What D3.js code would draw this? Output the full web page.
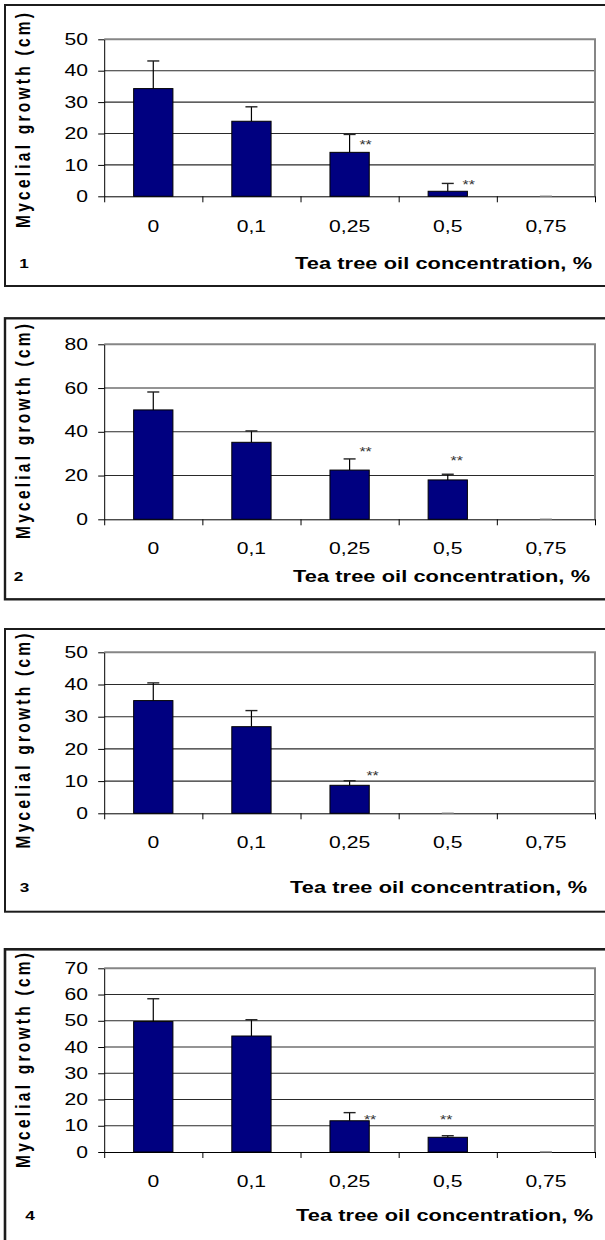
<!DOCTYPE html>
<html>
<head>
<meta charset="utf-8">
<script src="https://cdn.jsdelivr.net/npm/d3@7"></script>
<style>
  body { margin: 0; background: #fff; }
  svg { display: block; }
  text { font-family: "Liberation Sans", Arial, sans-serif; fill: #000; }
</style>
</head>
<body>
<svg id="fig" width="605" height="1240"></svg>
<script>
// Tea tree oil concentration (%) on the x axis
const categories = ["0", "0,1", "0,25", "0,5", "0,75"];

// Mean mycelial growth (cm) and standard deviation, one pair per fungus
const growth1 = [34.3, 23.9, 14.0, 1.6, 0];
const sd1     = [8.8, 4.6, 5.7, 2.5, 0];
const growth2 = [50.0, 35.2, 22.5, 18.0, 0];
const sd2     = [8.2, 5.2, 5.1, 2.6, 0];
const growth3 = [35.0, 26.9, 8.7, 0, 0];
const sd3     = [5.5, 5.0, 1.4, 0, null];
const growth4 = [49.7, 44.2, 11.9, 5.6, 0];
const sd4     = [8.7, 6.2, 3.1, 0.6, 0];

// Significance marks
const sig1 = ["", "", "**", "**", ""];
const sig2 = ["", "", "**", "**", ""];
const sig3 = ["", "", "**", "", ""];
const sig4 = ["", "", "**", "**", ""];

// y-axis extents and tick steps
const yMax  = [50, 80, 50, 70];
const yStep = [10, 20, 10, 10];

const panelIds = ["1", "2", "3", "4"];
const xTitle = "Tea tree oil concentration, %";
const yTitle = "Mycelial growth (cm)";

const panels = [
  { id: panelIds[0], values: growth1, sd: sd1, sig: sig1, max: yMax[0], step: yStep[0] },
  { id: panelIds[1], values: growth2, sd: sd2, sig: sig2, max: yMax[1], step: yStep[1] },
  { id: panelIds[2], values: growth3, sd: sd3, sig: sig3, max: yMax[2], step: yStep[2] },
  { id: panelIds[3], values: growth4, sd: sd4, sig: sig4, max: yMax[3], step: yStep[3] }
];

// Page geometry of each framed panel
const layout = [
  { boxTop: 5,     boxBottom: 286,   frameW: 2,   plotTop: 39.3,  zero: 196.3, tickY: 226,    titleY: 263,   numX: 24,   titleRight: 592, yTitleY: 120.5 },
  { boxTop: 318.3, boxBottom: 599.3, frameW: 2.4, plotTop: 344.3, zero: 519.3, tickY: 548.3,  titleY: 576,   numX: 18.5, titleRight: 590, yTitleY: 431.5 },
  { boxTop: 629,   boxBottom: 911.7, frameW: 2,   plotTop: 652.3, zero: 813.3, tickY: 842.7,  titleY: 887.7, numX: 24.5, titleRight: 587, yTitleY: 741 },
  { boxTop: 949.3, boxBottom: 1260,  frameW: 2.6, plotTop: 968.3, zero: 1152,  tickY: 1181.7, titleY: 1215,  numX: 30,   titleRight: 593, yTitleY: 1060.5 }
];

// Placement of the "**" marks: horizontal shift from bar centre (px), height in data units
const sigPlace = [
  [null, null, { dx: 16, at: 17.1 }, { dx: 21, at: 4.65 }, null],
  [null, null, { dx: 16, at: 32.0 }, { dx: 9,  at: 27.9 }, null],
  [null, null, { dx: 23, at: 12.6 }, null, null],
  [null, null, { dx: 20.5, at: 13.45 }, { dx: -1.6, at: 13.45 }, null]
];

const plotLeft = 104.2, plotRight = 595;
const SX = 1.32;   // horizontal stretch of the lettering
const navy = "#000080";

const svg = d3.select("#fig");

function label(g, x, y, str, anchor, size, weight) {
  return g.append("text")
    .attr("transform", `translate(${x},${y}) scale(${SX},1)`)
    .attr("text-anchor", anchor)
    .style("font-size", size + "px")
    .style("font-weight", weight || "normal")
    .text(str);
}

panels.forEach((P, i) => {
  const L = layout[i];
  const g = svg.append("g");

  // panel frame
  g.append("rect")
    .attr("x", 5).attr("y", L.boxTop)
    .attr("width", 640).attr("height", L.boxBottom - L.boxTop)
    .attr("fill", "none").attr("stroke", "#1c1c1c").attr("stroke-width", L.frameW);

  const x = d3.scaleBand().domain(categories)
    .range([plotLeft, plotRight]).paddingInner(0.6).paddingOuter(0.3);
  const xb = d3.scaleLinear().domain([0, categories.length]).range([plotLeft, plotRight]);
  const y = d3.scaleLinear().domain([0, P.max]).range([L.zero, L.plotTop]);
  const ticks = d3.range(0, P.max + P.step / 2, P.step);

  // horizontal gridlines
  g.append("g").selectAll("line")
    .data(ticks.filter(t => t > 0 && t < P.max))
    .join("line")
    .attr("x1", plotLeft).attr("x2", plotRight)
    .attr("y1", d => y(d)).attr("y2", d => y(d))
    .attr("stroke", "#2a2a2a").attr("stroke-width", 1.1);

  // plot area border (top and right)
  g.append("path")
    .attr("d", `M${plotLeft},${y(P.max)}H${plotRight}V${y(0)}`)
    .attr("fill", "none").attr("stroke", "#868686").attr("stroke-width", 2);

  // y axis with outward ticks
  const yAxis = g.append("g")
    .attr("transform", `translate(${plotLeft},0)`)
    .call(d3.axisLeft(y).tickValues(ticks).tickSize(6).tickSizeOuter(0).tickFormat(""));
  yAxis.select(".domain").attr("stroke", "#000");
  yAxis.selectAll(".tick line").attr("stroke", "#000");

  // x axis with category separators
  const xAxis = g.append("g")
    .attr("transform", `translate(0,${y(0)})`)
    .call(d3.axisBottom(xb).ticks(categories.length).tickSize(6).tickSizeOuter(0).tickFormat(""));
  xAxis.select(".domain").attr("stroke", "#000");
  xAxis.selectAll(".tick line").attr("stroke", "#000");

  // y tick labels
  ticks.forEach(t => {
    label(g, 88, y(t), String(t), "end", 16).attr("dy", "0.35em");
  });

  // x tick labels
  categories.forEach(c => {
    label(g, x(c) + x.bandwidth() / 2, L.tickY, c, "middle", 16).attr("dy", "0.35em");
  });

  const rows = categories.map((c, k) => ({ c, v: P.values[k], sd: P.sd[k], sig: P.sig[k], place: sigPlace[i][k] }));

  // bars
  g.append("g").selectAll("rect")
    .data(rows.filter(d => d.v > 0))
    .join("rect")
    .attr("x", d => x(d.c))
    .attr("y", d => y(d.v))
    .attr("width", x.bandwidth())
    .attr("height", d => y(0) - y(d.v))
    .attr("fill", navy)
    .attr("stroke", "#000").attr("stroke-width", 1);

  // error bars (upper half)
  const eb = g.append("g");
  rows.filter(d => d.sd !== null).forEach(d => {
    const cx = x(d.c) + x.bandwidth() / 2;
    if (d.sd > 0) {
      eb.append("line")
        .attr("x1", cx).attr("x2", cx)
        .attr("y1", y(d.v)).attr("y2", y(d.v + d.sd))
        .attr("stroke", "#000").attr("stroke-width", 1.2);
    }
    eb.append("line")
      .attr("x1", cx - 6).attr("x2", cx + 6)
      .attr("y1", y(d.v + d.sd)).attr("y2", y(d.v + d.sd))
      .attr("stroke", d.v + d.sd > 0 ? "#222" : "#777").attr("stroke-width", 1.4);
  });

  // significance marks
  rows.filter(d => d.sig && d.place).forEach(d => {
    const cx = x(d.c) + x.bandwidth() / 2;
    label(g, cx + d.place.dx, y(d.place.at) + 0.57 * 12, d.sig, "middle", 12)
      .style("fill", "#333");
  });

  // x-axis title
  label(g, L.titleRight, L.titleY, xTitle, "end", 16.5, "bold")
    .attr("dy", "0.35em")
    .attr("textLength", 297 / SX)
    .attr("lengthAdjust", "spacing");

  // panel number
  label(g, L.numX, L.titleY, P.id, "middle", 13, "bold").attr("dy", "0.35em");

  // y-axis title, reading bottom to top
  g.append("text")
    .attr("transform", `translate(30,${L.yTitleY}) scale(${SX},1) rotate(-90)`)
    .attr("text-anchor", "middle")
    .style("font-size", "15.5px")
    .style("font-weight", "bold")
    .attr("textLength", 215)
    .attr("lengthAdjust", "spacing")
    .text(yTitle);
});
</script>
</body>
</html>
